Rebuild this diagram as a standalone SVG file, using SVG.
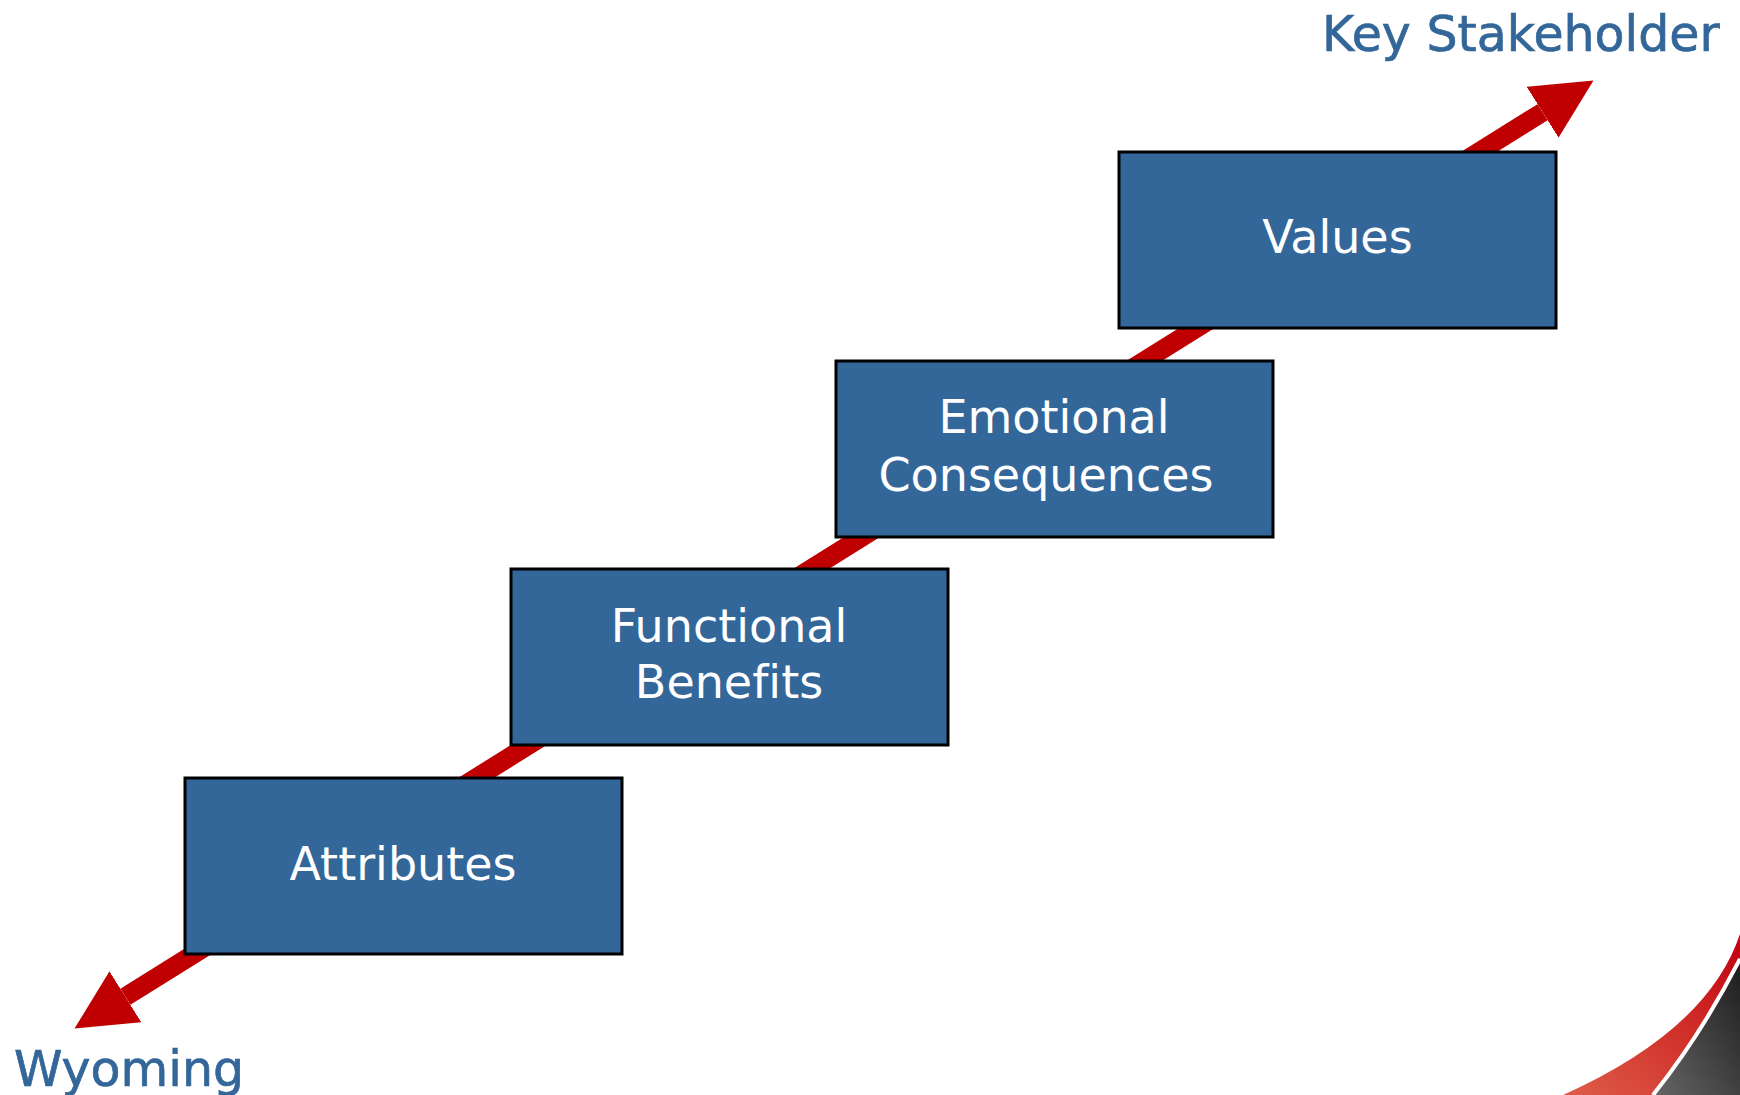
<svg xmlns="http://www.w3.org/2000/svg" width="1740" height="1095" viewBox="0 0 1740 1095">
  <style>
    .box { fill: #336699; stroke: #000000; stroke-width: 3; }
    .lbl { fill: #ffffff; font-family: "DejaVu Sans", "Verdana", sans-serif; font-size: 46px; text-anchor: middle; font-variant-ligatures: none; }
    .side { fill: #336699; stroke: #336699; stroke-width: 0.7; font-family: "DejaVu Sans", "Verdana", sans-serif; font-size: 49px; }
    .shaft { stroke: #c00000; stroke-width: 19; fill: none; }
  </style>
  <defs>
    <marker id="head" markerUnits="userSpaceOnUse" markerWidth="60" markerHeight="60" refX="0" refY="28.5" orient="auto-start-reverse" viewBox="0 0 57 57">
      <path d="M0,0 L57,28.5 L0,57 Z" fill="#c00000"/>
    </marker>
    <linearGradient id="redG" x1="0" y1="1" x2="1" y2="0">
      <stop offset="0" stop-color="#de5e4a"/>
      <stop offset="0.6" stop-color="#cf2a26"/>
      <stop offset="1" stop-color="#c00010"/>
    </linearGradient>
    <linearGradient id="greyG" x1="1" y1="0" x2="0" y2="1">
      <stop offset="0" stop-color="#1c1c1c"/>
      <stop offset="1" stop-color="#666666"/>
    </linearGradient>
  </defs>
  <rect x="0" y="0" width="1740" height="1095" fill="#ffffff"/>

  <g id="corner">
    <path d="M1652,1095 Q1700,1035 1740,958 L1740,1095 Z" fill="url(#greyG)"/>
    <path d="M1563,1095 Q1708,1030 1740,934 L1740,958 Q1700,1035 1652,1095 Z" fill="url(#redG)"/>
    <path d="M1653,1095 Q1701,1035 1740,959" fill="none" stroke="#ffffff" stroke-width="4"/>
  </g>

  <g id="connectors">
    <line class="shaft" x1="125.4" y1="996.8" x2="1542.6" y2="112.2" marker-start="url(#head)" marker-end="url(#head)"/>
  </g>

  <g id="node-attributes">
    <rect class="box" x="185" y="778" width="437" height="176"/>
    <text class="lbl" x="403" y="880">Attributes</text>
  </g>
  <g id="node-functional">
    <rect class="box" x="511" y="569" width="437" height="176"/>
    <text class="lbl" x="729" y="642">Functional</text>
    <text class="lbl" x="729" y="698">Benefits</text>
  </g>
  <g id="node-emotional">
    <rect class="box" x="836" y="361" width="437" height="176"/>
    <text class="lbl" x="1054" y="433">Emotional</text>
    <text class="lbl" x="1046" y="491">Consequences</text>
  </g>
  <g id="node-values">
    <rect class="box" x="1119" y="152" width="437" height="176"/>
    <text class="lbl" x="1337.5" y="253">Values</text>
  </g>

  <g id="label-key-stakeholder">
    <text class="side" x="1322" y="51">Key Stakeholder</text>
  </g>
  <g id="label-wyoming">
    <text class="side" x="14" y="1086">Wyoming</text>
  </g>
</svg>
